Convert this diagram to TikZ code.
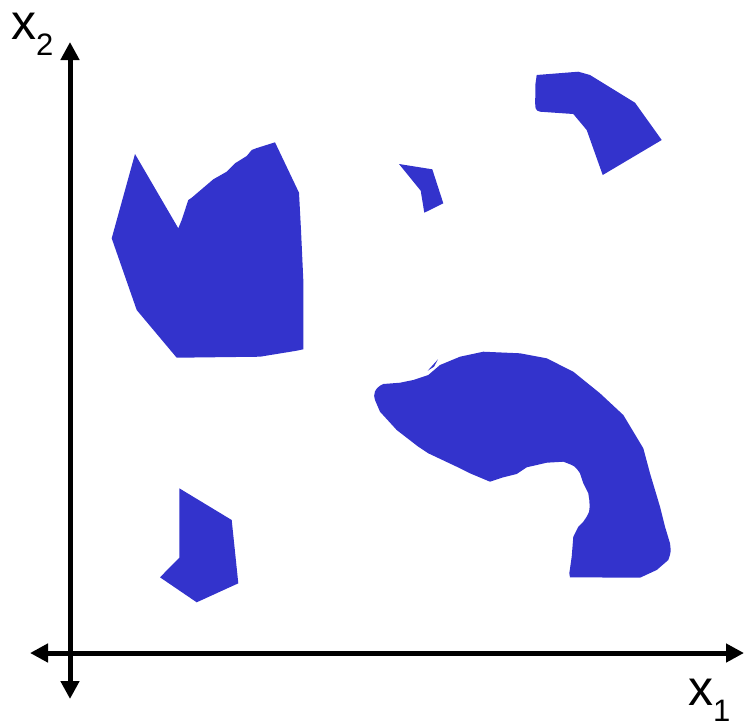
\documentclass[tikz,border=0pt]{standalone}
\usepackage{fontspec}
\setmainfont{Liberation Sans}
\usetikzlibrary{arrows.meta}
\definecolor{blob}{HTML}{3333CC}
\tikzset{
  region/.style={fill=blob, draw=none},
  axis/.style={line width=5pt, {Triangle[length=18pt,width=18pt]}-{Triangle[length=18pt,width=18pt]}},
  axlabel/.style={inner sep=0pt, anchor=base west}
}
\newcommand{\axlab}[1]{{\fontsize{50}{56}\selectfont x}{\fontsize{31}{36}\selectfont\raisebox{-16pt}{#1}}}
\begin{document}
\begin{tikzpicture}[x=1pt,y=-1pt]
\useasboundingbox (0,0) rectangle (746,724);
% regions
\fill[region] (135,154) -- (178.3,228.3) -- (181.7,220) -- (188.3,200) -- (191.7,197.7) -- (213.3,179.3) -- (226.7,171.7) -- (235,163.3) -- (246.7,156) -- (251.7,150) -- (256,148.3) -- (275,142.3) -- (299,192.7) -- (301,230) -- (303.3,280) -- (303.3,349.3) -- (296.7,350.7) -- (260,356.7) -- (176.7,357.7) -- (136.7,310) -- (111.7,238.3) -- cycle;
\fill[region] (375,400) .. controls (373,395) and (374,388) .. (383.3,384) -- (400,382.7) -- (413.3,380) -- (428.3,375) -- (440,365) -- (460,356.7) -- (483.3,351.7) -- (520,353.3) -- (546.7,358.3) -- (573.3,371.7) -- (600,393.3) -- (623.3,415) -- (643.3,448.3) -- (650,473.3) -- (660,506.7) -- (665,526.7) -- (670,543.3) .. controls (671,552) .. (668.3,560) -- (656.7,570) -- (640,577.7) -- (570,577.3) -- (569.3,573.3) -- (571.7,556.7) -- (573.3,536.7) -- (578.3,526.7) -- (583.3,521.7) .. controls (590,512) .. (589.3,500) -- (588.3,493.3) -- (583.3,483.3) -- (580,473.3) .. controls (575,466) .. (563.3,461.7) -- (546.7,462.7) -- (526.7,467.3) -- (516.7,474) -- (503.3,477.3) -- (490,481.7) -- (470,473.3) -- (456.7,466.7) -- (428.3,453.3) -- (418.3,446.7) -- (396.7,430) -- (380,411.7) -- cycle;
\fill[region] (427.7,370.7) -- (438,359.3) -- (434,366.7) -- cycle;
\fill[region] (536.7,75) -- (578.3,71.7) -- (590,75) -- (635,102.7) -- (661.7,140) -- (602.7,175) -- (586.7,130) -- (573.3,114) -- (540,111.7) .. controls (535,110) .. (535.3,95) -- (535.3,85) -- cycle;
\fill[region] (399,164) -- (432.3,169.3) -- (443.3,203.3) -- (424.3,212.7) -- (420.7,190.7) -- cycle;
\fill[region] (179.3,488.3) -- (231.7,520) -- (238.3,583.3) -- (196.7,602.3) -- (160,577.3) -- (179.3,557.7) -- cycle;
% axes
\coordinate (ybot) at (70,699);
\coordinate (ytop) at (70,42);
\coordinate (xleft) at (30,653);
\coordinate (xright) at (744,653);
\draw[axis] (ybot) -- (ytop);
\draw[axis] (xleft) -- (xright);
\node[axlabel] (lx2) at (11,39) {\axlab{2}};
\node[axlabel] (lx1) at (688,705) {\axlab{1}};
\end{tikzpicture}
\end{document}
